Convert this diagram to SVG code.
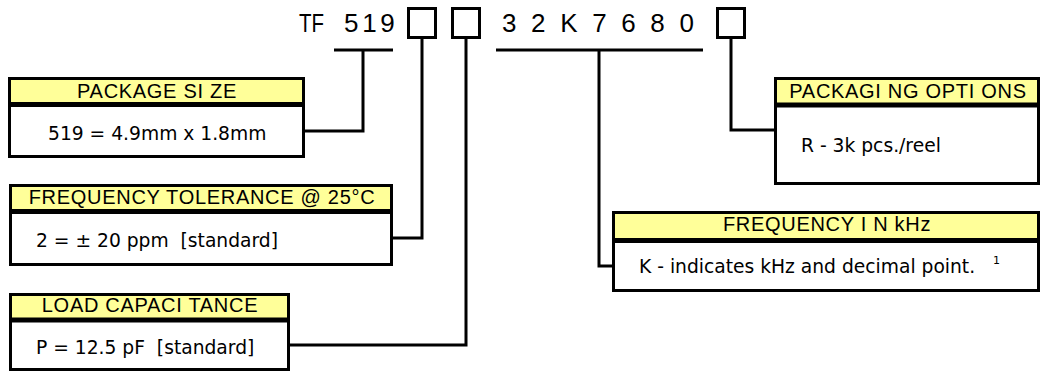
<svg xmlns="http://www.w3.org/2000/svg" width="1045" height="372" viewBox="0 0 1045 372">
<style>
.bg{fill:#ffffff}
.frame{fill:#ffffff;stroke:#000;stroke-width:3}
.head{fill:#ffff99}
.sep{stroke:#000;stroke-width:5}
.conn{fill:none;stroke:#000;stroke-width:3}
.pn{font-family:"Liberation Sans",Arial,sans-serif;font-size:26px;letter-spacing:3.7px;fill:#000}
.ht{font-family:"Liberation Sans",Arial,sans-serif;font-size:20px;letter-spacing:0.7px;fill:#000;text-anchor:middle}
.bt{font-family:"DejaVu Sans",Verdana,sans-serif;font-size:18.7px;fill:#000}
.sup{font-family:"DejaVu Sans",Verdana,sans-serif;font-size:11px;fill:#000}
.slot{fill:#fff;stroke:#000;stroke-width:3}
</style>
<rect class="bg" x="0" y="0" width="1045" height="372"/>
<g id="partnumber">
<text class="pn" x="299" y="32" textLength="25" lengthAdjust="spacingAndGlyphs" style="letter-spacing:0">TF</text>
<text class="pn" x="344" y="32">519</text>
<rect class="slot" x="408.5" y="8.5" width="27" height="29"/>
<rect class="slot" x="452.5" y="8.5" width="27" height="29"/>
<text class="pn" x="502" y="32">3 2 K 7 6 8 0</text>
<rect class="slot" x="717.5" y="8.5" width="27" height="29"/>
</g>
<g id="connectors">
<path class="conn" d="M334,50 H393 M363,50 V131 H305"/>
<path class="conn" d="M422,38 V238 H393"/>
<path class="conn" d="M466,38 V345 H290"/>
<path class="conn" d="M496,50 H703 M599,50 V266 H612"/>
<path class="conn" d="M731,38 V130 H774"/>
</g>
<g id="package-size">
<rect class="frame" x="9.5" y="78.5" width="294" height="78"/>
<rect class="head" x="11" y="80" width="291" height="24.5"/>
<line class="sep" x1="9.5" y1="104.5" x2="303.5" y2="104.5"/>
<text class="ht" x="157" y="97.5">PACKAGE SI ZE</text>
<text class="bt" x="48" y="140">519 = 4.9mm x 1.8mm</text>
</g>
<g id="frequency-tolerance">
<rect class="frame" x="10.5" y="185.5" width="381" height="79"/>
<rect class="head" x="12" y="187" width="378" height="24.5"/>
<line class="sep" x1="10.5" y1="211.5" x2="391.5" y2="211.5"/>
<text class="ht" x="202" y="204">FREQUENCY TOLERANCE @ 25°C</text>
<text class="bt" x="36" y="247" xml:space="preserve">2 = ± 20 ppm  [standard]</text>
</g>
<g id="load-capacitance">
<rect class="frame" x="10.5" y="294.5" width="278" height="75"/>
<rect class="head" x="12" y="296" width="275" height="24"/>
<line class="sep" x1="10.5" y1="320" x2="288.5" y2="320"/>
<text class="ht" x="150" y="312">LOAD CAPACI TANCE</text>
<text class="bt" x="36" y="354" xml:space="preserve">P = 12.5 pF  [standard]</text>
</g>
<g id="packaging-options">
<rect class="frame" x="775.5" y="78.5" width="263" height="105"/>
<rect class="head" x="777" y="80" width="260" height="25"/>
<line class="sep" x1="775.5" y1="105" x2="1038.5" y2="105"/>
<text class="ht" x="908" y="97.5">PACKAGI NG OPTI ONS</text>
<text class="bt" x="801" y="152">R - 3k pcs./reel</text>
</g>
<g id="frequency-khz">
<rect class="frame" x="613.5" y="212.5" width="425" height="78"/>
<rect class="head" x="615" y="214" width="422" height="26.5"/>
<line class="sep" x1="613.5" y1="240.5" x2="1038.5" y2="240.5"/>
<text class="ht" x="827" y="231">FREQUENCY I N kHz</text>
<text class="bt" x="639" y="273">K - indicates kHz and decimal point.</text>
<text class="sup" x="993" y="264">1</text>
</g>
</svg>
